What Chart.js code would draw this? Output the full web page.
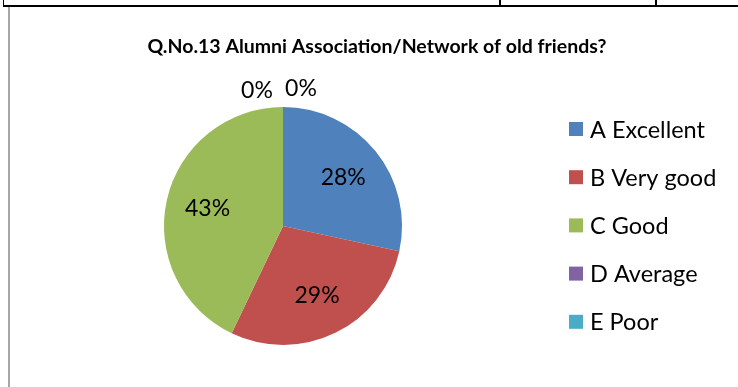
<!DOCTYPE html>
<html>
<head>
<meta charset="utf-8">
<script src="https://cdn.jsdelivr.net/npm/chart.js@4.4.1/dist/chart.umd.min.js"></script>
<style>
  html, body { margin: 0; padding: 0; background: #fff; }
  #wrap { position: relative; width: 738px; height: 387px; overflow: hidden; }
  #pieChart { position: absolute; left: 0; top: 0; }
  .ln { position: absolute; background: #000; }
</style>
</head>
<body>
<div id="wrap">
  <canvas id="pieChart" width="738" height="387"></canvas>
  <!-- bits of the table border around the chart -->
  <div class="ln" style="left:3px;top:5px;width:735px;height:2px;"></div>
  <div class="ln" style="left:3px;top:0;width:1px;height:6px;"></div>
  <div class="ln" style="left:499px;top:0;width:2px;height:6px;"></div>
  <div class="ln" style="left:655px;top:0;width:2px;height:6px;"></div>
  <div class="ln" style="left:8px;top:7px;width:2px;height:380px;background:#a6a6a6;"></div>
</div>
<script>
// data
var chartTitle = "Q.No.13 Alumni Association/Network of old friends?";
var categories = ["A Excellent", "B Very good", "C Good", "D Average", "E Poor"];
var percentValues = [28.4, 28.7, 42.9, 0, 0];
var sliceColors = ['#4F81BD', '#C0504D', '#9BBB59', '#8064A2', '#4BACC6'];

var fontName = "Lato, 'Open Sans', sans-serif";

// title, legend and the % labels
var extrasPlugin = {
  id: 'extras',
  afterDraw: function(chart) {
    var ctx = chart.ctx;
    ctx.save();
    ctx.fillStyle = '#000';
    ctx.textBaseline = 'middle';

    // title
    ctx.font = 'bold 19.5px ' + fontName;
    ctx.textAlign = 'center';
    ctx.fillText(chartTitle, 377, 47);

    // legend
    ctx.font = '23.5px ' + fontName;
    ctx.textAlign = 'left';
    categories.forEach(function(name, i) {
      var y = 129 + i * 48.2;
      ctx.fillStyle = sliceColors[i];
      ctx.fillRect(569, y - 7, 14, 14);
      ctx.fillStyle = '#000';
      ctx.fillText(name, 590, y + 1);
    });

    // data labels
    ctx.font = '23px ' + fontName;
    ctx.textAlign = 'center';
    var meta = chart.getDatasetMeta(0);
    var zeroCount = 0;
    meta.data.forEach(function(arc, i) {
      var v = percentValues[i];
      var txt = Math.round(v) + '%';
      var p = arc.getProps(['x', 'y', 'startAngle', 'endAngle', 'outerRadius'], true);
      var x, y;
      if (v > 0) {
        var mid = (p.startAngle + p.endAngle) / 2;
        x = p.x + Math.cos(mid) * p.outerRadius * 0.65;
        y = p.y + Math.sin(mid) * p.outerRadius * 0.65;
      } else {
        // empty slices sit at the top of the pie, labels outside
        x = p.x + (zeroCount === 0 ? -26 : 18);
        y = p.y - p.outerRadius - (zeroCount === 0 ? 16 : 18);
        zeroCount++;
      }
      ctx.fillText(txt, x, y);
    });
    ctx.restore();
  }
};

var ctx = document.getElementById('pieChart').getContext('2d');
var myChart = new Chart(ctx, {
  type: 'pie',
  data: {
    labels: categories,
    datasets: [{
      data: percentValues,
      backgroundColor: sliceColors,
      borderWidth: 0
    }]
  },
  options: {
    responsive: false,
    animation: false,
    layout: {
      padding: { left: 164, right: 336, top: 107, bottom: 42 }
    },
    plugins: {
      legend: { display: false },
      title: { display: false },
      tooltip: { enabled: false }
    }
  },
  plugins: [extrasPlugin]
});
</script>
</body>
</html>
